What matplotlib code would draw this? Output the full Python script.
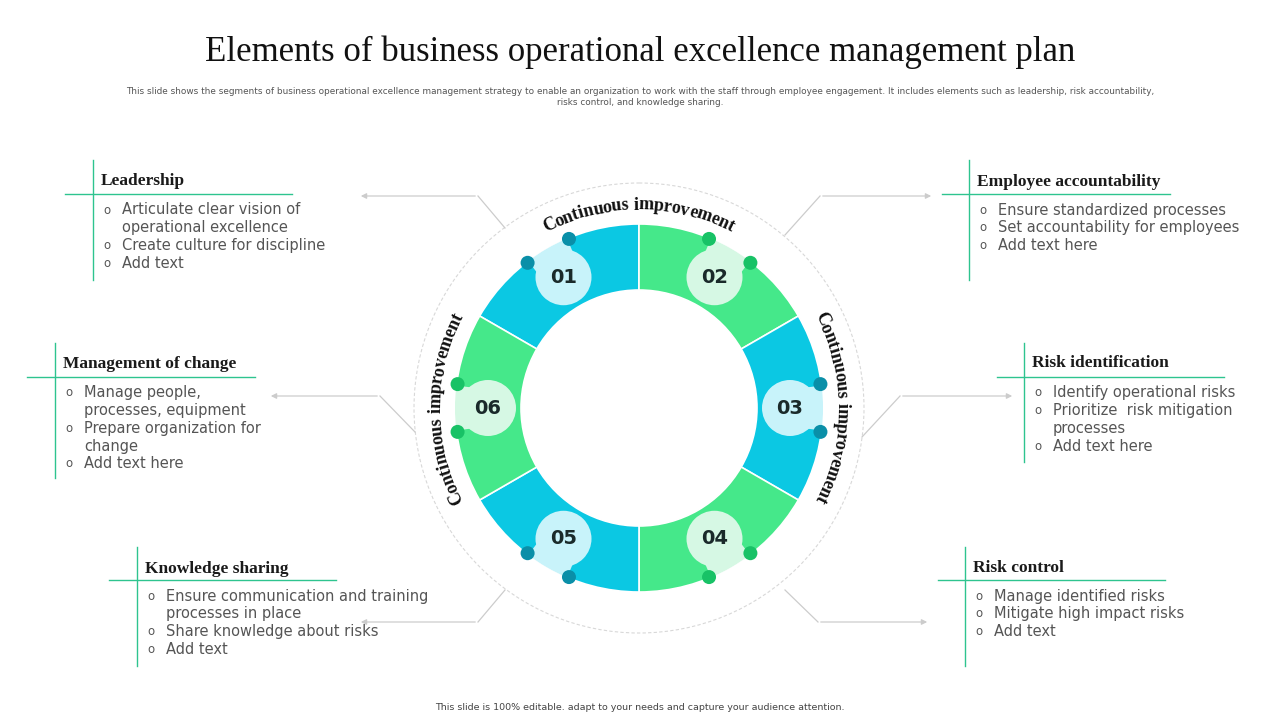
import numpy as np
import matplotlib.pyplot as plt
from matplotlib.patches import Wedge, Circle
from matplotlib.textpath import TextPath
from matplotlib.font_manager import FontProperties

# =============================================================================
# Content
# =============================================================================
TITLE = "Elements of business operational excellence management plan"
SUBTITLE = ("This slide shows the segments of business operational excellence management strategy to enable an organization to work with the staff through employee engagement. It includes elements such as leadership, risk accountability,\n"
            "risks control, and knowledge sharing.")
FOOTER = "This slide is 100% editable. adapt to your needs and capture your audience attention."

SEGMENT_LABELS = ["01", "02", "03", "04", "05", "06"]
SEGMENT_MID_ANGLES = [120, 60, 0, -60, -120, 180]
ARC_TEXT = "Continuous improvement"
ARC_CENTERS = [90, 0, 180]

BOX_TITLES = ["Leadership", "Employee accountability", "Management of change",
              "Risk identification", "Knowledge sharing", "Risk control"]
BOX_BULLETS = [
    [["Articulate clear vision of", "operational excellence"], ["Create culture for discipline"], ["Add text"]],
    [["Ensure standardized processes"], ["Set accountability for employees"], ["Add text here"]],
    [["Manage people,", "processes, equipment"], ["Prepare organization for", "change"], ["Add text here"]],
    [["Identify operational risks"], ["Prioritize  risk mitigation", "processes"], ["Add text here"]],
    [["Ensure communication and training", "processes in place"], ["Share knowledge about risks"], ["Add text"]],
    [["Manage identified risks"], ["Mitigate high impact risks"], ["Add text"]],
]
# (vline x, box top, box bottom, hline y, hline x0, hline x1, title y)
BOX_GEOM = [
    (93, 160, 280, 194, 65, 292, 181),
    (969, 160, 280, 194, 942, 1170, 182),
    (55, 343, 478, 377, 27, 255, 364),
    (1024, 343, 462, 377, 997, 1224, 363),
    (137, 547, 666, 580, 109, 336, 569),
    (965, 547, 666, 580, 938, 1165, 568),
]
CONNECTORS = [
    [(505, 228), (478, 196), (358, 196)],
    [(785, 235), (820, 196), (934, 196)],
    [(415, 432), (380, 396), (268, 396)],
    [(862, 437), (900, 396), (1015, 396)],
    [(505, 590), (478, 622), (358, 622)],
    [(785, 590), (818, 622), (930, 622)],
]

BLUE, GREEN = "#0BC8E3", "#45E88A"
BLUE_L, GREEN_L = "#C8F3FA", "#D6F8E4"
BLUE_D, GREEN_D = "#0A8FA8", "#18C266"
TEAL = "#2EC48F"
SERIF = "Liberation Serif"

CX, CY = 639, 408
R_OUT, R_IN, R_NUM, R_ARC = 184, 118, 151, 203

fig = plt.figure(figsize=(12.8, 7.2), dpi=100)
ax = fig.add_axes([0, 0, 1, 1])
ax.set_xlim(0, 1280)
ax.set_ylim(720, 0)
ax.axis("off")


def polar(r, ang):
    a = np.radians(ang)
    return CX + r * np.cos(a), CY - r * np.sin(a)


# Header / footer
ax.text(640, 52, TITLE, ha="center", va="center", fontsize=25, family=SERIF, color="#111111")
ax.text(640, 97, SUBTITLE, ha="center", va="center", fontsize=6.4, color="#555555",
        linespacing=1.3)
ax.text(640, 707, FOOTER, ha="center", va="center", fontsize=6.8, color="#444444")

# Dashed outer ring
ax.add_patch(Circle((CX, CY), 225, fill=False, ec="#d8d8d8", lw=0.8, ls=(0, (3, 2))))

# Ring segments (y axis inverted: negate angles)
for i, mid in enumerate(SEGMENT_MID_ANGLES):
    blue = i % 2 == 0
    col = BLUE if blue else GREEN
    ax.add_patch(Wedge((CX, CY), R_OUT, -(mid + 30), -(mid - 30), width=R_OUT - R_IN,
                       fc=col, ec="white", lw=1.2))
for i, mid in enumerate(SEGMENT_MID_ANGLES):
    blue = i % 2 == 0
    light = BLUE_L if blue else GREEN_L
    dark = BLUE_D if blue else GREEN_D
    ax.add_patch(Wedge((CX, CY), R_OUT, -(mid + 7), -(mid - 7), width=R_OUT - R_NUM,
                       fc=light, ec="none"))
    for d in (-7.5, 7.5):
        ax.add_patch(Circle(polar(R_OUT - 1, mid + d), 7, fc=dark, ec="none"))
    ax.add_patch(Circle(polar(R_NUM, mid), 28, fc=light, ec="none"))
    x, y = polar(R_NUM, mid)
    ax.text(x, y, SEGMENT_LABELS[i], ha="center", va="center", fontsize=14,
            fontweight="bold", color="#1a2a2a")

# Curved "Continuous improvement" labels
fp = FontProperties(family=SERIF, weight="bold")
px = 18
widths = [TextPath((0, 0), ch if ch != " " else "n", size=px, prop=fp).get_extents().width
          if ch != " " else px * 0.25 for ch in ARC_TEXT]
widths = [w + 0.8 for w in widths]
total = sum(widths)
for c in ARC_CENTERS:
    start = c + np.degrees(total / 2 / R_ARC)
    pos = 0
    for ch, w in zip(ARC_TEXT, widths):
        ang = start - np.degrees((pos + w / 2) / R_ARC)
        pos += w
        x, y = polar(R_ARC, ang)
        ax.text(x, y, ch, ha="center", va="center", fontsize=px * 0.72, family=SERIF,
                fontweight="bold", rotation=ang - 90, rotation_mode="anchor", color="#111111")

# Connectors
for pts in CONNECTORS:
    xs, ys = zip(*pts)
    ax.plot(xs[:-1], ys[:-1], color="#cccccc", lw=0.9)
    ax.annotate("", xy=pts[-1], xytext=pts[-2],
                arrowprops=dict(arrowstyle="-|>", color="#cccccc", lw=0.9, mutation_scale=8))

# Text boxes
for title, bullets, (vx, top, bot, hy, hx0, hx1, ty) in zip(BOX_TITLES, BOX_BULLETS, BOX_GEOM):
    ax.plot([vx, vx], [top, bot], color=TEAL, lw=1)
    ax.plot([hx0, hx1], [hy, hy], color=TEAL, lw=1)
    ax.text(vx + 8, ty, title, ha="left", va="center", fontsize=12.5, family=SERIF,
            fontweight="bold", color="#1a1a1a")
    y = hy + 16
    for item in bullets:
        ax.text(vx + 14, y, "o", ha="center", va="center", fontsize=8.5, color="#555555")
        for line in item:
            ax.text(vx + 29, y, line, ha="left", va="center", fontsize=10.5, color="#555555")
            y += 17.7

fig.savefig("out.png", dpi=100)
plt.close(fig)
